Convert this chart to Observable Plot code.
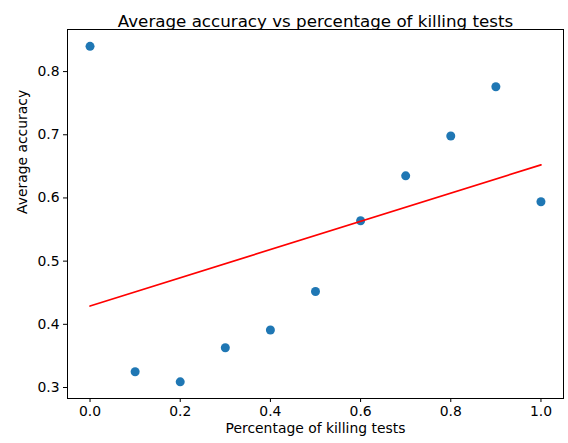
<!DOCTYPE html>
<html>
<head>
<meta charset="utf-8">
<script src="https://cdn.jsdelivr.net/npm/d3@7"></script>
<script src="https://cdn.jsdelivr.net/npm/@observablehq/plot@0.6"></script>
<style>
  html, body { margin: 0; padding: 0; background: #fff; }
</style>
</head>
<body>
<div id="chart"></div>
<script>
const percentages = [0.0, 0.1, 0.2, 0.3, 0.4, 0.5, 0.6, 0.7, 0.8, 0.9, 1.0];
const accuracies = [0.840, 0.325, 0.309, 0.363, 0.391, 0.452, 0.564, 0.635, 0.698, 0.776, 0.594];
const xTicks = [0.0, 0.2, 0.4, 0.6, 0.8, 1.0];
const yTicks = [0.3, 0.4, 0.5, 0.6, 0.7, 0.8];
const title = "Average accuracy vs percentage of killing tests";
const xLabel = "Percentage of killing tests";
const yLabel = "Average accuracy";

const data = percentages.map((p, i) => ({x: p, y: accuracies[i]}));

const chart = Plot.plot({
  width: 568,
  height: 443,
  marginLeft: 67,
  marginRight: 5,
  marginTop: 29,
  marginBottom: 45,
  style: {fontFamily: "DejaVu Sans", fontSize: "13.9px", color: "#000", background: "#fff"},
  x: {domain: [-0.05, 1.05], ticks: xTicks, tickFormat: d3.format(".1f"), label: null},
  y: {domain: [0.2826, 0.8666], ticks: yTicks, tickFormat: d3.format(".1f"), label: null},
  marks: [
    Plot.axisX({ticks: xTicks, tickFormat: d3.format(".1f"), tickSize: 4, tickPadding: 4, label: null, stroke: "#000", fontSize: 13.9}),
    Plot.axisY({ticks: yTicks, tickFormat: d3.format(".1f"), tickSize: 4, tickPadding: 4, label: null, stroke: "#000", fontSize: 13.9}),
    Plot.dot(data, {x: "x", y: "y", r: 4.5, fill: "#1f77b4", stroke: null}),
    Plot.linearRegressionY(data, {x: "x", y: "y", stroke: "red", strokeWidth: 1.7, ci: 0}),
    Plot.frame({stroke: "#000", strokeWidth: 1}),
    Plot.text([title], {frameAnchor: "top", dy: -14, fontSize: 16.7, fill: "#000"}),
    Plot.text([xLabel], {frameAnchor: "bottom", dy: 34, fontSize: 13.9, fill: "#000"}),
    Plot.text([yLabel], {frameAnchor: "left", dx: -45, rotate: -90, fontSize: 13.9, fill: "#000"})
  ]
});
document.getElementById("chart").appendChild(chart);
</script>
</body>
</html>
